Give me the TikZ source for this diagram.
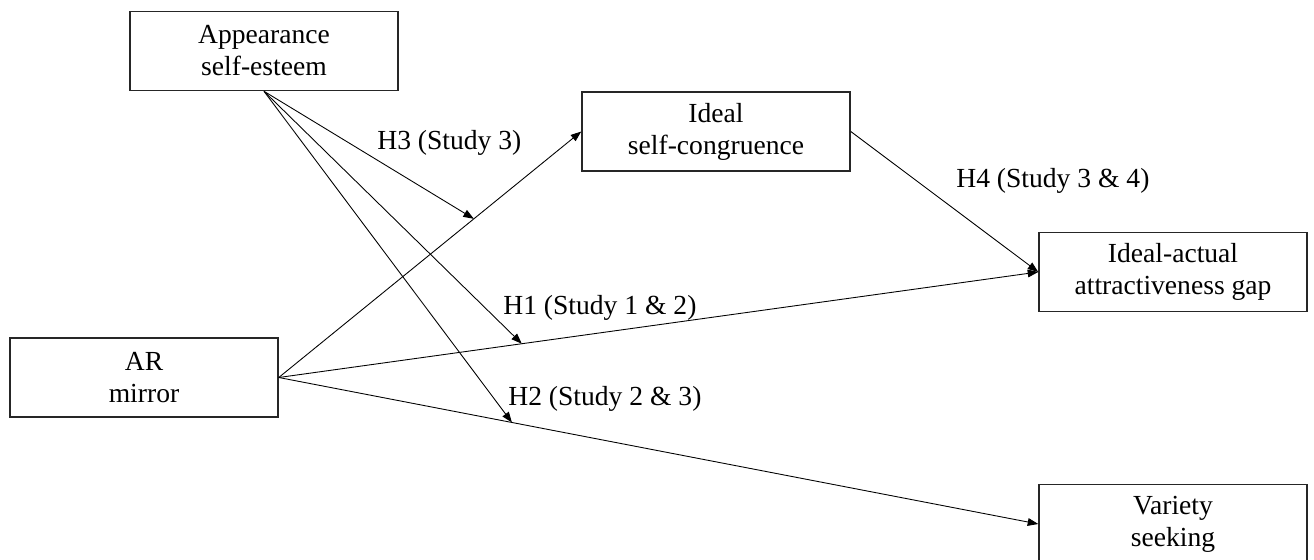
\documentclass[tikz,border=0pt]{standalone}
\usepackage{fontspec}
\setmainfont{Liberation Serif}
\usetikzlibrary{arrows.meta}

\begin{document}
\begin{tikzpicture}[x=0.02cm, y=-0.02cm,
  box/.style={draw=black!85, line width=0.9pt, align=center, minimum width=5.36cm, minimum height=1.58cm, inner sep=0pt, font=\fontsize{15.7}{18.2}\selectfont},
  link/.style={-{Triangle[length=6pt,width=4.4pt]}, line width=0.5pt},
  hyp/.style={anchor=base west, inner sep=0pt, font=\fontsize{15.7}{18.2}\selectfont}]
\useasboundingbox (0,0) rectangle (1314,560);
\node[box] (ase) at (264,51) {Appearance\\self-esteem};
\node[box] (isc) at (716,131.5) {Ideal\\self-congruence};
\node[box] (gap) at (1173,272) {Ideal-actual\\attractiveness gap};
\node[box] (arm) at (144,377.5) {AR\\mirror};
\node[box] (vsk) at (1173,524) {Variety\\seeking};
\node[hyp] (h3) at (377,150) {H3 (Study 3)};
\node[hyp] (h4) at (956,188) {H4 (Study 3 \& 4)};
\node[hyp] (h1) at (503,315) {H1 (Study 1 \& 2)};
\node[hyp] (h2) at (508,405) {H2 (Study 2 \& 3)};
\draw[link] (arm.east) -- coordinate[pos=0.645] (m3) (isc.west);
\draw[link] (arm.east) -- coordinate[pos=0.32] (m1) (gap.west);
\draw[link] (arm.east) -- coordinate[pos=0.307] (m2) (vsk.west);
\draw[link] (isc.east) -- (gap.west);
\draw[link] (ase.south) -- (m3);
\draw[link] (ase.south) -- (m1);
\draw[link] (ase.south) -- (m2);
\end{tikzpicture}
\end{document}
